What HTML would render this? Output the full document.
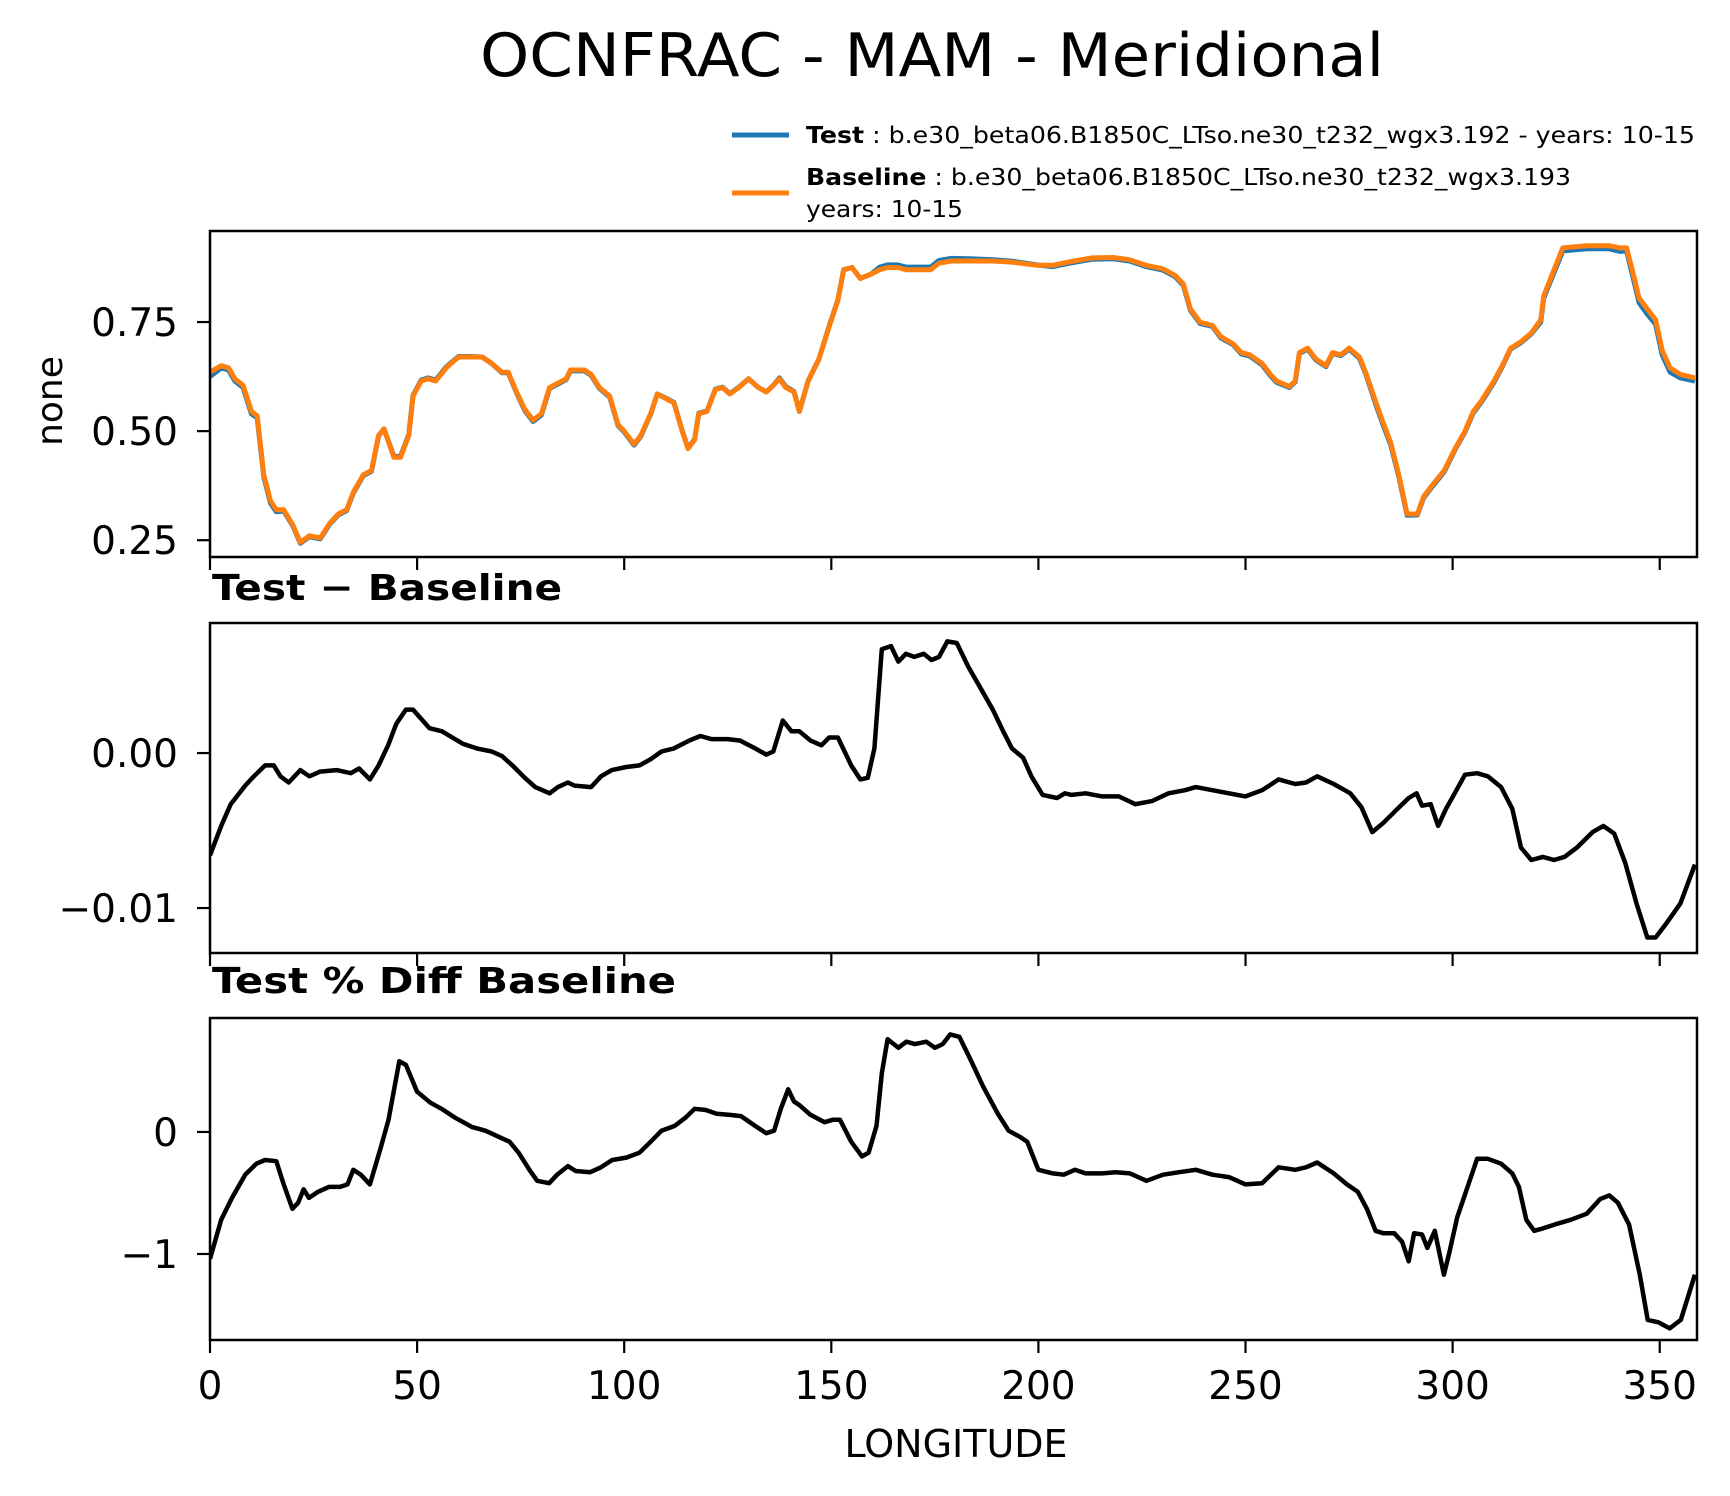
<!DOCTYPE html>
<html><head><meta charset="utf-8"><style>
html,body{margin:0;padding:0;background:#fff}
svg{display:block}
text{font-family:"DejaVu Sans","Liberation Sans",sans-serif;fill:#000}
</style></head><body>
<svg id="chart" width="1730" height="1496" viewBox="0 0 1730 1496" xmlns="http://www.w3.org/2000/svg">
<text x="480" y="76" font-size="60" textLength="904" lengthAdjust="spacingAndGlyphs">OCNFRAC - MAM - Meridional</text>
<g>
<line x1="732" y1="135" x2="789" y2="135" stroke="#1f77b4" stroke-width="5"/>
<text x="806" y="143" font-size="23" textLength="889" lengthAdjust="spacingAndGlyphs"><tspan font-weight="bold">Test</tspan> : b.e30_beta06.B1850C_LTso.ne30_t232_wgx3.192 - years: 10-15</text>
<line x1="732" y1="193" x2="789" y2="193" stroke="#ff7f0e" stroke-width="5"/>
<text x="806" y="185" font-size="23" textLength="765" lengthAdjust="spacingAndGlyphs"><tspan font-weight="bold">Baseline</tspan> : b.e30_beta06.B1850C_LTso.ne30_t232_wgx3.193</text>
<text x="806" y="217" font-size="23" textLength="157" lengthAdjust="spacingAndGlyphs">years: 10-15</text>
</g>
<text transform="translate(62,401) rotate(-90)" text-anchor="middle" font-size="36">none</text>
<text x="212" y="600" font-size="36" font-weight="bold" textLength="350" lengthAdjust="spacingAndGlyphs">Test − Baseline</text>
<text x="212" y="993" font-size="36" font-weight="bold" textLength="464" lengthAdjust="spacingAndGlyphs">Test % Diff Baseline</text>
<text x="956" y="1457" text-anchor="middle" font-size="38">LONGITUDE</text>
<g id="plots"></g>
</svg>
<script>
// ---- data ----
const lonTop = [0,2.7,4.5,6,8,10,11.4,13,14.6,16,17.8,20,21.8,24,26.6,29,31,33,34.6,37,39,40.7,42,44.4,46,48,49,51,52.7,54.5,57,60,62.5,65.7,68,70.5,72,74,76,78,80,82,84,86,87,90.4,92,94,96.5,98.5,100,102.4,104,106.4,108,110,112,114,115.4,117,118,120,122,123.7,125.5,127.7,130,132.4,134.3,136,137.5,139,141,142.3,144.4,147,149.5,151.6,153,155,157,159.6,161.7,163.6,166,168,170,172,174,176,179,183.5,189,194,199.5,203.5,207.5,213,218,222,226,230,233,235,236.7,239,242,244,247,249,251,254,256,257.5,260.6,262,263,265,267,269.4,271,273,275,277.5,279,281.5,283,285,287,289,291.5,293,295,298,300.6,303,305,307,310,312,314,316.5,319,321.3,322,324.5,326.6,332.4,337.8,340.4,342,344,345,347,349,350.6,352.5,355,358.5];
const baseline = [0.635,0.65,0.645,0.62,0.605,0.545,0.535,0.40,0.34,0.32,0.32,0.285,0.245,0.26,0.255,0.29,0.31,0.32,0.36,0.40,0.41,0.49,0.505,0.44,0.44,0.49,0.58,0.615,0.62,0.615,0.645,0.67,0.67,0.67,0.655,0.635,0.635,0.59,0.55,0.525,0.54,0.60,0.61,0.62,0.64,0.64,0.63,0.60,0.58,0.515,0.50,0.47,0.49,0.54,0.585,0.575,0.565,0.50,0.46,0.48,0.54,0.545,0.595,0.60,0.585,0.60,0.62,0.60,0.59,0.605,0.62,0.60,0.59,0.545,0.615,0.665,0.74,0.80,0.87,0.875,0.85,0.86,0.87,0.875,0.875,0.87,0.87,0.87,0.87,0.885,0.89,0.89,0.89,0.887,0.88,0.88,0.888,0.897,0.898,0.893,0.88,0.872,0.857,0.837,0.78,0.75,0.742,0.717,0.70,0.68,0.675,0.655,0.63,0.615,0.602,0.615,0.68,0.69,0.665,0.65,0.68,0.675,0.69,0.67,0.635,0.565,0.525,0.475,0.40,0.31,0.31,0.35,0.375,0.41,0.46,0.50,0.545,0.57,0.615,0.65,0.69,0.705,0.725,0.755,0.81,0.87,0.92,0.925,0.925,0.92,0.92,0.845,0.805,0.78,0.755,0.685,0.645,0.63,0.622];
const test = [0.625,0.645,0.64,0.615,0.6,0.54,0.53,0.395,0.335,0.315,0.317,0.283,0.243,0.258,0.253,0.288,0.308,0.318,0.358,0.398,0.408,0.489,0.505,0.442,0.442,0.492,0.582,0.617,0.622,0.617,0.647,0.671,0.671,0.67,0.655,0.634,0.634,0.588,0.547,0.522,0.537,0.598,0.608,0.618,0.638,0.638,0.628,0.598,0.578,0.513,0.498,0.468,0.488,0.539,0.585,0.576,0.566,0.501,0.461,0.481,0.541,0.546,0.596,0.601,0.586,0.601,0.62,0.6,0.59,0.605,0.622,0.602,0.591,0.545,0.615,0.665,0.741,0.801,0.87,0.875,0.85,0.86,0.876,0.881,0.881,0.876,0.876,0.876,0.876,0.891,0.896,0.895,0.893,0.889,0.881,0.877,0.885,0.894,0.895,0.89,0.877,0.869,0.854,0.834,0.777,0.747,0.74,0.714,0.698,0.677,0.672,0.652,0.627,0.612,0.6,0.613,0.678,0.688,0.663,0.648,0.678,0.673,0.688,0.667,0.632,0.56,0.52,0.47,0.396,0.307,0.308,0.347,0.372,0.407,0.458,0.498,0.542,0.567,0.612,0.648,0.688,0.703,0.723,0.75,0.805,0.864,0.913,0.918,0.918,0.912,0.913,0.835,0.795,0.768,0.745,0.675,0.635,0.622,0.615];
const lonDiff = [0,2.7,5,8.5,10.6,13.3,15.4,17,19,21.8,24,26.6,30.6,34,36,38.6,40.7,43,45,47.3,49,51,53,56,58.5,61,64.4,68,70.5,73,76,78.5,82,84,86.4,88,92,94.4,97,100.5,103.7,106.4,109,112,115.7,118.4,121,125,128,131.6,134.3,136,138.3,140.4,142.3,145,147.6,149.5,151.6,154.8,157,158.8,160.4,162.2,164.4,166.2,168,170,172.3,174.2,176,178,180.3,183,186,189,191.5,193.6,196.3,198.3,201,204.5,206.4,208,211.4,215.4,219.4,223.4,227.4,231.4,235.4,238,242,246,250,254,258,262,264.6,267.3,271.3,275.3,278,280.6,283.3,286.7,289.4,291.3,292.6,294.7,296.5,298.4,300.5,303,305.9,308.5,311.7,314.4,316.5,319,321.8,324.5,327,330,333.8,336.4,339,341.7,344.4,347,349,351.6,355,358.5];
const diffVals = [-0.0066,-0.0047,-0.0033,-0.0021,-0.0015,-0.0008,-0.0008,-0.0015,-0.0019,-0.0011,-0.0015,-0.0012,-0.0011,-0.0013,-0.001,-0.0017,-0.0008,0.0005,0.0019,0.0028,0.0028,0.0022,0.0016,0.0014,0.001,0.0006,0.0003,0.0001,-0.0002,-0.0008,-0.0016,-0.0022,-0.0026,-0.0022,-0.0019,-0.0021,-0.0022,-0.0015,-0.0011,-0.0009,-0.0008,-0.0004,0.0001,0.0003,0.0008,0.0011,0.0009,0.0009,0.0008,0.0003,-0.0001,0.0001,0.0021,0.0014,0.0014,0.0008,0.0005,0.001,0.001,-0.0008,-0.0017,-0.0016,0.0003,0.0067,0.0069,0.0059,0.0064,0.0062,0.0064,0.006,0.0062,0.0072,0.0071,0.0056,0.0042,0.0028,0.0014,0.0003,-0.0003,-0.0015,-0.0027,-0.0029,-0.0026,-0.0027,-0.0026,-0.0028,-0.0028,-0.0033,-0.0031,-0.0026,-0.0024,-0.0022,-0.0024,-0.0026,-0.0028,-0.0024,-0.0017,-0.002,-0.0019,-0.0015,-0.002,-0.0026,-0.0035,-0.0051,-0.0045,-0.0036,-0.0029,-0.0026,-0.0034,-0.0033,-0.0047,-0.0036,-0.0026,-0.0014,-0.0013,-0.0015,-0.0022,-0.0036,-0.0061,-0.0069,-0.0067,-0.0069,-0.0067,-0.0061,-0.0051,-0.0047,-0.0052,-0.0071,-0.0097,-0.0119,-0.0119,-0.011,-0.0097,-0.0072];
const lonPct = [0,2.7,5.3,8.5,11.2,13.3,16,17.8,19.9,21.3,22.6,23.9,26.1,28.7,31.4,33.2,34.6,36.4,38.6,41.2,43.1,45.7,47.3,50,53.2,55.9,59,63.3,66.5,69.7,72.3,74.5,77.1,79,81.9,83.8,86.4,88.3,91.8,94.4,97.1,100.5,103.7,106.4,109,112.2,114.9,117,119.7,122.3,125.5,128.2,131.6,134.3,136.2,137.8,139.6,141,142.3,145,148.4,150.3,152.1,154.8,157.4,159,160.9,162.2,163.6,166.2,168.1,170.2,172.9,175,176.9,178.7,180.9,183.5,186.7,190.2,192.8,195.5,197.3,200,203.5,206.1,208.8,211.4,215.4,218.6,222.1,226.1,230.1,234,238,242,246,250,254,258,262,264.6,267.3,271.3,274.5,277.1,279.3,281.4,283.2,285.9,287.8,289.4,290.7,292.6,293.9,295.7,297.9,299.2,301.1,303.2,305.9,308.5,311.7,314.4,316,317.8,319.7,321.8,324.5,328.5,332.4,335.6,337.8,339.9,342.6,345.2,347.1,349.7,352.4,355.1,358.5];
const pctVals = [-1.04,-0.72,-0.54,-0.35,-0.26,-0.23,-0.24,-0.43,-0.63,-0.58,-0.47,-0.54,-0.49,-0.45,-0.45,-0.43,-0.31,-0.35,-0.43,-0.13,0.1,0.58,0.55,0.33,0.24,0.19,0.12,0.04,0.01,-0.04,-0.08,-0.17,-0.31,-0.4,-0.42,-0.35,-0.28,-0.32,-0.33,-0.29,-0.23,-0.21,-0.17,-0.08,0.01,0.05,0.12,0.19,0.18,0.15,0.14,0.13,0.05,-0.01,0.01,0.19,0.35,0.25,0.22,0.14,0.08,0.1,0.1,-0.08,-0.2,-0.17,0.05,0.48,0.76,0.69,0.74,0.72,0.74,0.69,0.72,0.8,0.78,0.6,0.37,0.15,0.01,-0.04,-0.08,-0.31,-0.34,-0.35,-0.31,-0.34,-0.34,-0.33,-0.34,-0.4,-0.35,-0.33,-0.31,-0.35,-0.37,-0.43,-0.42,-0.29,-0.31,-0.29,-0.25,-0.34,-0.43,-0.49,-0.63,-0.81,-0.83,-0.83,-0.9,-1.06,-0.83,-0.84,-0.95,-0.81,-1.17,-0.99,-0.7,-0.49,-0.22,-0.22,-0.26,-0.34,-0.45,-0.72,-0.81,-0.79,-0.76,-0.72,-0.67,-0.55,-0.52,-0.58,-0.76,-1.17,-1.54,-1.56,-1.61,-1.54,-1.17];
const xTicks = [0,50,100,150,200,250,300,350];
const topTicks = [0.25,0.5,0.75];
const topTickLabels = ["0.25","0.50","0.75"];
const diffTicks = [-0.01,0];
const diffTickLabels = ["−0.01","0.00"];
const pctTicks = [-1,0];
const pctTickLabels = ["−1","0"];

// ---- layout ----
const NS = "http://www.w3.org/2000/svg";
const L = 210, R = 1697, XMAX = 359;
const xs = d => L + d * (R - L) / XMAX;
const panels = [
 {name:"top", top:231, bot:557, vmin:0.2115, vmax:0.9587, ticks:topTicks, labels:topTickLabels},
 {name:"diff", top:623, bot:953, vmin:-0.01290, vmax:0.00839, ticks:diffTicks, labels:diffTickLabels},
 {name:"pct", top:1018, bot:1340, vmin:-1.705, vmax:0.934, ticks:pctTicks, labels:pctTickLabels}
];
const g = document.getElementById('plots');
function mk(tag, attrs){const e=document.createElementNS(NS,tag);for(const k in attrs)e.setAttribute(k,attrs[k]);return e;}
function ysFor(p){return v => p.bot - (v - p.vmin) / (p.vmax - p.vmin) * (p.bot - p.top);}
function lineFor(p, lon, vals, color, w, name){
  const ys = ysFor(p);
  const d = lon.map((x,i)=>(i?'L':'M')+xs(x).toFixed(1)+','+ys(vals[i]).toFixed(1)).join('');
  const el = mk('path',{d:d,fill:'none',stroke:color,'stroke-width':w,'stroke-linejoin':'round','stroke-linecap':'butt'});
  
  
  return el;
}
panels.forEach((p,pi)=>{
  const grp = mk('g',{});
  
  
  const clip = mk('clipPath',{id:'clip'+pi});
  clip.appendChild(mk('rect',{x:L,y:p.top,width:R-L,height:p.bot-p.top}));
  grp.appendChild(clip);
  const ys = ysFor(p);
  const data = mk('g',{'clip-path':'url(#clip'+pi+')'});
  if(pi===0){
    data.appendChild(lineFor(p, lonTop, test, '#1f77b4', 5, 'test-line'));
    data.appendChild(lineFor(p, lonTop, baseline, '#ff7f0e', 5, 'baseline-line'));
  } else if(pi===1){
    data.appendChild(lineFor(p, lonDiff, diffVals, '#000', 4.5, 'diff-line'));
  } else {
    data.appendChild(lineFor(p, lonPct, pctVals, '#000', 4.5, 'pct-diff-line'));
  }
  grp.appendChild(data);
  const frame = mk('rect',{x:L,y:p.top,width:R-L,height:p.bot-p.top,fill:'none',stroke:'#000','stroke-width':2.5});
  
  
  grp.appendChild(frame);
  p.ticks.forEach((t,i)=>{
    const y = ys(t);
    const tk = mk('line',{x1:L-13,x2:L,y1:y,y2:y,stroke:'#000','stroke-width':2.2});
    
    
    grp.appendChild(tk);
    const tx = mk('text',{x:L-32,y:y+14,'text-anchor':'end','font-size':39});
    tx.textContent = p.labels[i];
    
    
    grp.appendChild(tx);
  });
  xTicks.forEach(t=>{
    const x = xs(t);
    const tk = mk('line',{x1:x,x2:x,y1:p.bot,y2:p.bot+13,stroke:'#000','stroke-width':2.2});
    
    
    grp.appendChild(tk);
    if(pi===2){
      const tx = mk('text',{x:x,y:1399,'text-anchor':'middle','font-size':39});
      tx.textContent = String(t);
      
      
      grp.appendChild(tx);
    }
  });
  g.appendChild(grp);
});
</script>
</body></html>
